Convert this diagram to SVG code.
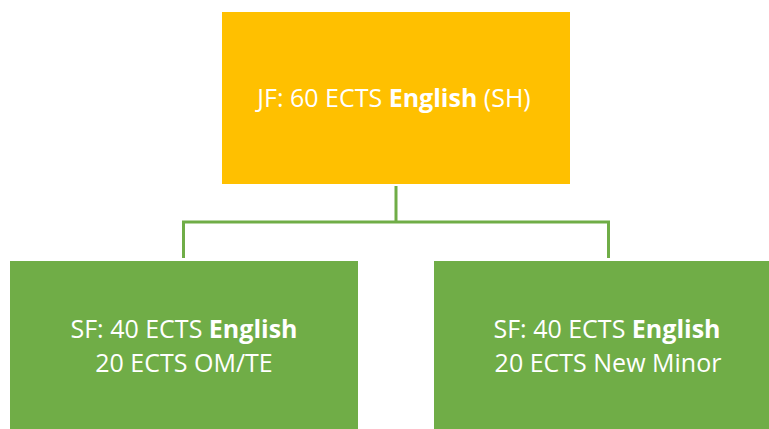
<svg xmlns="http://www.w3.org/2000/svg" width="769" height="429" viewBox="0 0 769 429">
<style>
.t{font-family:"Open Sans","Liberation Sans",sans-serif;font-size:25px;fill:#ffffff;text-anchor:middle}
.b{font-weight:bold}
.c{stroke:#70AD47;stroke-width:3;fill:none}
</style>
<rect width="769" height="429" fill="#ffffff"/>
<g id="connectors">
<path class="c" d="M396,186 V222 M183.5,258 V222 H608.5 V258"/>
</g>
<g id="jf">
<rect x="222" y="12" width="348" height="172" fill="#FFC000"/>
<text class="t" x="394" y="107">JF: 60 ECTS <tspan class="b">English</tspan> (SH)</text>
</g>
<g id="sf-left">
<rect x="10" y="261" width="348" height="168" fill="#70AD47"/>
<text class="t" x="184" y="338">SF: 40 ECTS <tspan class="b">English</tspan></text>
<text class="t" x="184" y="372">20 ECTS OM/TE</text>
</g>
<g id="sf-right">
<rect x="434" y="261" width="348" height="168" fill="#70AD47"/>
<text class="t" x="607" y="338">SF: 40 ECTS <tspan class="b">English</tspan></text>
<text class="t" x="608" y="372">20 ECTS New Minor</text>
</g>
</svg>
